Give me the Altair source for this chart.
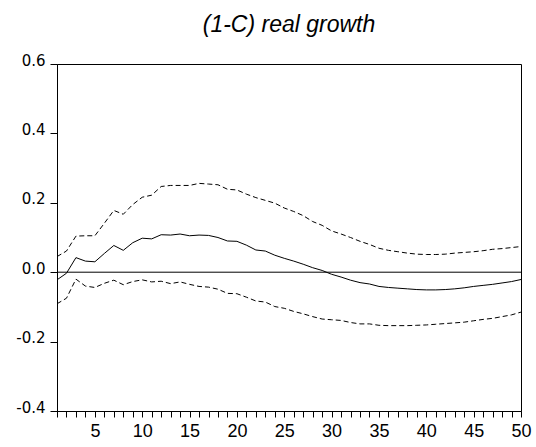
import altair as alt
import pandas as pd

steps = list(range(1, 51))

response = [-0.022, -0.003, 0.042, 0.032, 0.030, 0.054, 0.077, 0.063, 0.085, 0.098,
            0.096, 0.108, 0.107, 0.110, 0.105, 0.107, 0.106, 0.100, 0.090, 0.089,
            0.078, 0.064, 0.061, 0.049, 0.040, 0.032, 0.023, 0.013, 0.005, -0.006,
            -0.014, -0.023, -0.030, -0.034, -0.041, -0.044, -0.046, -0.048, -0.050, -0.051,
            -0.051, -0.050, -0.048, -0.045, -0.041, -0.038, -0.035, -0.031, -0.027, -0.021]

upper = [0.045, 0.061, 0.104, 0.105, 0.105, 0.141, 0.178, 0.167, 0.195, 0.216,
         0.222, 0.247, 0.250, 0.250, 0.250, 0.256, 0.254, 0.252, 0.239, 0.237,
         0.225, 0.215, 0.207, 0.199, 0.185, 0.175, 0.163, 0.146, 0.135, 0.119,
         0.110, 0.100, 0.089, 0.080, 0.069, 0.063, 0.059, 0.055, 0.052, 0.051,
         0.051, 0.052, 0.055, 0.057, 0.059, 0.062, 0.066, 0.068, 0.071, 0.074]

lower = [-0.091, -0.075, -0.020, -0.040, -0.044, -0.032, -0.023, -0.036, -0.027, -0.022,
         -0.028, -0.026, -0.033, -0.028, -0.035, -0.041, -0.043, -0.049, -0.061, -0.062,
         -0.072, -0.083, -0.086, -0.099, -0.104, -0.113, -0.120, -0.128, -0.135, -0.137,
         -0.139, -0.145, -0.149, -0.149, -0.153, -0.154, -0.154, -0.154, -0.153, -0.152,
         -0.150, -0.148, -0.146, -0.144, -0.140, -0.136, -0.133, -0.128, -0.123, -0.115]

y_ticks = [-0.4, -0.2, 0.0, 0.2, 0.4, 0.6]
title_text = "(1-C) real growth"

df_resp = pd.DataFrame({"step": steps, "value": response})
df_band = pd.DataFrame({
    "step": steps + steps,
    "value": upper + lower,
    "series": ["upper"] * len(steps) + ["lower"] * len(steps),
})
df_zero = pd.DataFrame({"value": [0.0]})

x_scale = alt.Scale(domain=[1, 50], nice=False, zero=False)
y_scale = alt.Scale(domain=[-0.4, 0.6], nice=False, zero=False)

x_axis = alt.Axis(
    values=steps,
    labelExpr="datum.value % 5 == 0 ? datum.label : ''",
    labelOverlap=False,
    title=None,
    grid=False,
    tickSize=6,
    tickColor="black",
    domainColor="black",
    labelColor="black",
    labelFont="Liberation Sans",
    labelFontSize=18,
    labelPadding=5,
    labelFlush=False,
)
y_axis = alt.Axis(
    values=y_ticks,
    labelExpr="replace(format(datum.value, '.1f'), '\u2212', '-')",
    labelOverlap=False,
    title=None,
    grid=False,
    tickSize=7,
    tickColor="black",
    domainColor="black",
    labelColor="black",
    labelFont="DejaVu Sans",
    labelFontSize=15,
    labelPadding=5,
    labelBaseline="alphabetic",
    labelOffset=1,
    labelFlush=False,
)

X = alt.X("step:Q", scale=x_scale, axis=x_axis)
Y = alt.Y("value:Q", scale=y_scale, axis=y_axis)

resp = alt.Chart(df_resp).mark_line(color="black", strokeWidth=1).encode(x=X, y=Y)

band = alt.Chart(df_band).mark_line(color="black", strokeWidth=1, strokeDash=[5, 3]).encode(
    x=X, y=Y, detail="series:N",
)

zero = alt.Chart(df_zero).mark_rule(color="black", strokeWidth=1).encode(y=Y)

chart = alt.layer(zero, band, resp).properties(
    width=464,
    height=347,
    background="white",
    title=alt.TitleParams(
        title_text,
        font="Liberation Sans",
        fontSize=23,
        fontStyle="italic",
        fontWeight="normal",
        color="black",
        anchor="middle",
        offset=16,
    ),
    autosize=alt.AutoSizeParams(type="none"),
    padding={"left": 57, "top": 64, "right": 15, "bottom": 36},
).configure_view(
    stroke="black", strokeWidth=1
)

chart.save("out.html", embed_options={"renderer": "svg", "actions": False})
